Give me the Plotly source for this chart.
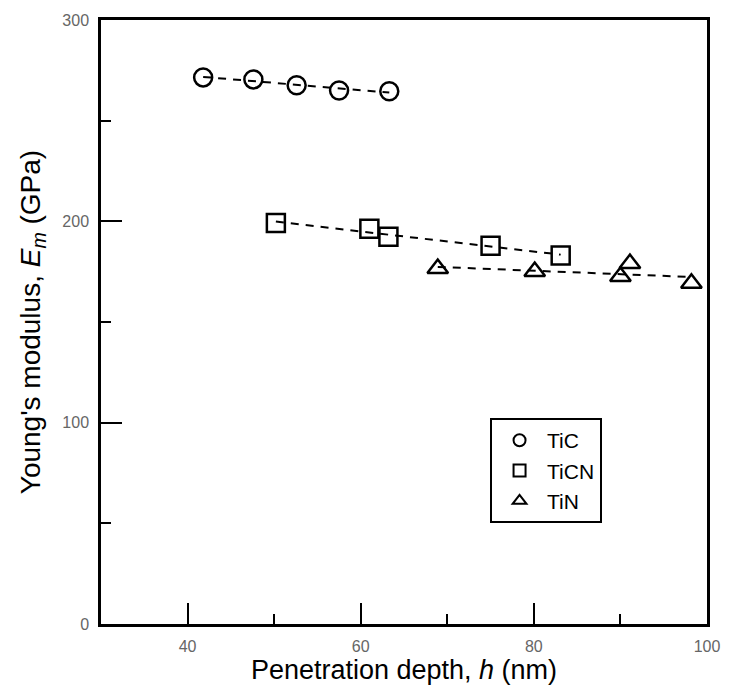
import numpy as np
import plotly.graph_objects as go

# Data
tic_h = [41.8, 47.6, 52.6, 57.5, 63.3]
tic_E = [271.5, 270.5, 267.6, 265.0, 264.6]

ticn_h = [50.2, 61.0, 63.2, 75.0, 83.1]
ticn_E = [199.2, 196.3, 192.3, 187.9, 183.0]

tin_h = [68.9, 80.1, 90.0, 91.1, 98.2]
tin_E = [176.6, 175.1, 172.6, 179.0, 169.2]

series = [
    ("TiC", tic_h, tic_E, "circle-open"),
    ("TiCN", ticn_h, ticn_E, "square-open"),
    ("TiN", tin_h, tin_E, "triangle-up-open"),
]

x_ticks = [40, 60, 80, 100]
y_ticks = [0, 100, 200, 300]

FONT = "Arial, Liberation Sans, sans-serif"

fig = go.Figure()

# dashed linear-fit lines
for name, xs, ys, sym in series:
    k, b = np.polyfit(xs, ys, 1)
    xl = [min(xs), max(xs)]
    yl = [k * v + b for v in xl]
    fig.add_trace(go.Scatter(
        x=xl, y=yl, mode="lines", showlegend=False, hoverinfo="skip",
        line=dict(color="black", width=2, dash="8px,7px"),
    ))

for name, xs, ys, sym in series:
    fig.add_trace(go.Scatter(
        x=xs, y=ys, mode="markers", name=name,
        marker=dict(symbol=sym, size=18, color="black",
                    line=dict(color="black", width=2.5)),
    ))

axis_common = dict(
    showline=True, linecolor="black", linewidth=2.5, mirror=True,
    ticks="inside", ticklen=21, tickwidth=2, tickcolor="black",
    showgrid=False, zeroline=False,
    tickfont=dict(family=FONT, size=16, color="#666666"),
)

fig.update_xaxes(
    range=[30, 100], tickvals=x_ticks, ticktext=[str(v) for v in x_ticks],
    minor=dict(ticks="inside", ticklen=10, tickwidth=2, tickcolor="black", dtick=10, tick0=0),
    ticklabelstandoff=6,
    title=dict(text="Penetration depth, <i>h</i> (nm)",
               font=dict(family=FONT, size=27, color="black"), standoff=2),
    **axis_common,
)
fig.update_yaxes(
    range=[0, 300], tickvals=y_ticks, ticktext=[str(v) for v in y_ticks],
    minor=dict(ticks="inside", ticklen=10, tickwidth=2, tickcolor="black", dtick=50, tick0=0),
    ticklabelstandoff=6,
    title=dict(text="Young's modulus, <i>E</i><sub><i>m</i></sub> (GPa)",
               font=dict(family=FONT, size=28, color="black"), standoff=14),
    **axis_common,
)

fig.update_layout(
    width=732, height=689,
    margin=dict(l=101, r=17, t=17, b=65),
    paper_bgcolor="white", plot_bgcolor="white",
    font=dict(family=FONT, color="black"),
    legend=dict(
        x=0.642, y=0.341, xanchor="left", yanchor="top",
        bgcolor="white", bordercolor="black", borderwidth=2,
        font=dict(family=FONT, size=21, color="black"),
        itemsizing="constant", tracegroupgap=0, itemwidth=45,
    ),
)

fig.write_html("out.html")
